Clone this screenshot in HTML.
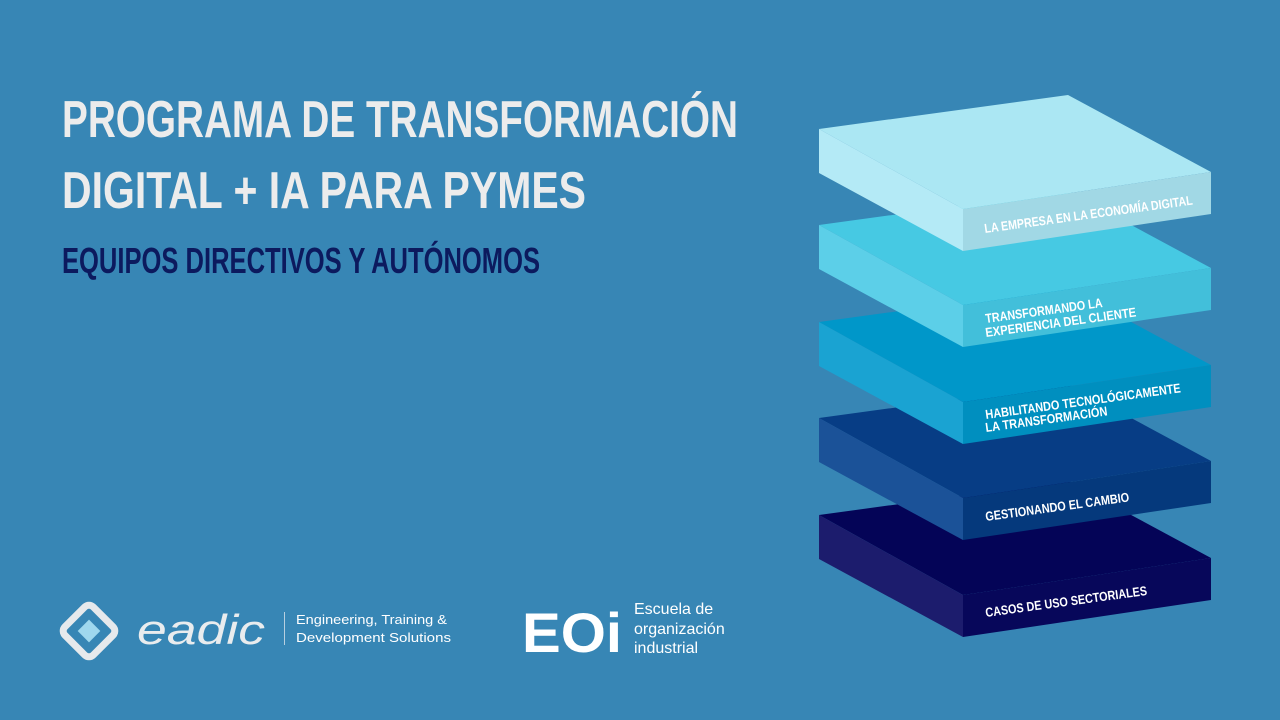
<!DOCTYPE html>
<html><head><meta charset="utf-8"><style>
html,body{margin:0;padding:0;background:#3786b5;}
svg{display:block}
.t{font-family:"Liberation Sans Narrow","Liberation Sans",sans-serif;font-weight:bold;}
.l{font-family:"Liberation Sans Narrow","Liberation Sans",sans-serif;font-weight:bold;fill:#fff;font-size:13px;}
</style></head><body>
<svg width="1280" height="720" viewBox="0 0 1280 720" xmlns="http://www.w3.org/2000/svg">
<rect width="1280" height="720" fill="#3786b5"/>
<text class="t" x="62" y="137" font-size="52" fill="#ececec" textLength="676" lengthAdjust="spacingAndGlyphs">PROGRAMA DE TRANSFORMACIÓN</text>
<text class="t" x="62" y="208" font-size="52" fill="#ececec" textLength="524" lengthAdjust="spacingAndGlyphs">DIGITAL + IA PARA PYMES</text>
<text class="t" x="62" y="273" font-size="36" fill="#0c1a5e" textLength="478" lengthAdjust="spacingAndGlyphs">EQUIPOS DIRECTIVOS Y AUTÓNOMOS</text>

<g transform="translate(0,386)">
<polygon points="819,129 1068,95 1211,172 963,209" fill="#040457"/>
<polygon points="819,129 963,209 963,251 819,173" fill="#1c1c6d"/>
<polygon points="963,209 1211,172 1211,214 963,251" fill="#07075a"/>
</g>
<g transform="translate(0,289)">
<polygon points="819,129 1068,95 1211,172 963,209" fill="#073d85"/>
<polygon points="819,129 963,209 963,251 819,173" fill="#1b5298"/>
<polygon points="963,209 1211,172 1211,214 963,251" fill="#05397c"/>
</g>
<g transform="translate(0,193)">
<polygon points="819,129 1068,95 1211,172 963,209" fill="#0097c9"/>
<polygon points="819,129 963,209 963,251 819,173" fill="#1aa3d2"/>
<polygon points="963,209 1211,172 1211,214 963,251" fill="#008fbf"/>
</g>
<g transform="translate(0,96)">
<polygon points="819,129 1068,95 1211,172 963,209" fill="#46c9e3"/>
<polygon points="819,129 963,209 963,251 819,173" fill="#5ccfe8"/>
<polygon points="963,209 1211,172 1211,214 963,251" fill="#42bfda"/>
</g>
<g>
<polygon points="819,129 1068,95 1211,172 963,209" fill="#abe7f3"/>
<polygon points="819,129 963,209 963,251 819,173" fill="#b4eaf6"/>
<polygon points="963,209 1211,172 1211,214 963,251" fill="#a1d8e5"/>
</g>
<text class="l" transform="translate(985,233) rotate(-7.8)" textLength="210" lengthAdjust="spacingAndGlyphs">LA EMPRESA EN LA ECONOMÍA DIGITAL</text>
<text class="l" transform="translate(986,323) rotate(-7.8)" textLength="118" lengthAdjust="spacingAndGlyphs">TRANSFORMANDO LA</text>
<text class="l" transform="translate(986,337) rotate(-7.8)" textLength="152" lengthAdjust="spacingAndGlyphs">EXPERIENCIA DEL CLIENTE</text>
<text class="l" transform="translate(986,419) rotate(-7.8)" textLength="197" lengthAdjust="spacingAndGlyphs">HABILITANDO TECNOLÓGICAMENTE</text>
<text class="l" transform="translate(986,432) rotate(-7.8)" textLength="123" lengthAdjust="spacingAndGlyphs">LA TRANSFORMACIÓN</text>
<text class="l" transform="translate(986,521) rotate(-7.8)" textLength="145" lengthAdjust="spacingAndGlyphs">GESTIONANDO EL CAMBIO</text>
<text class="l" transform="translate(986,617) rotate(-7.8)" textLength="163" lengthAdjust="spacingAndGlyphs">CASOS DE USO SECTORIALES</text>

<g transform="translate(89,631) rotate(45)">
<rect x="-20" y="-20" width="40" height="40" rx="6" fill="none" stroke="#e6e9ec" stroke-width="7"/>
<rect x="-8" y="-8" width="16" height="16" fill="#9fd8ee"/>
</g>
<text x="137" y="644" font-family="Liberation Sans,sans-serif" font-style="italic" font-size="42" fill="#e9ecee" textLength="128" lengthAdjust="spacingAndGlyphs">eadic</text>
<rect x="284" y="612" width="1" height="33" fill="#b7cfe0"/>
<text x="296" y="624" font-family="Liberation Sans,sans-serif" font-size="13" fill="#fff" textLength="151" lengthAdjust="spacingAndGlyphs">Engineering, Training &amp;</text>
<text x="296" y="642" font-family="Liberation Sans,sans-serif" font-size="13" fill="#fff" textLength="155" lengthAdjust="spacingAndGlyphs">Development Solutions</text>
<text x="522" y="652" font-family="Liberation Sans,sans-serif" font-weight="bold" font-size="56" fill="#fff" textLength="100" lengthAdjust="spacingAndGlyphs">EOi</text>
<text x="634" y="614" font-family="Liberation Sans,sans-serif" font-size="16" fill="#fff">Escuela de</text>
<text x="634" y="634" font-family="Liberation Sans,sans-serif" font-size="16" fill="#fff">organización</text>
<text x="634" y="653" font-family="Liberation Sans,sans-serif" font-size="16" fill="#fff">industrial</text>
</svg>
</body></html>
